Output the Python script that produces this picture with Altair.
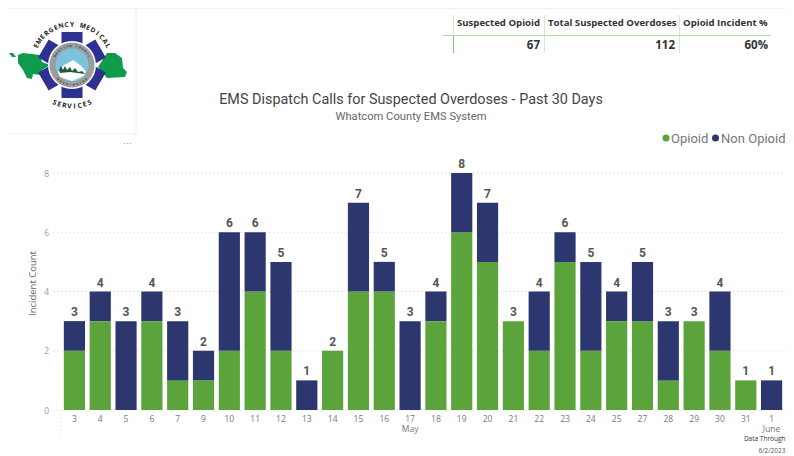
import math
import altair as alt
import pandas as pd

days = ["3","4","5","6","7","9","10","11","12","13","14","15","16","17","18","19","20","21","22","23","24","25","27","28","29","30","31","1"]
opioid = [2,3,0,3,1,1,2,4,2,0,2,4,4,0,3,6,5,3,2,5,2,3,3,1,3,2,1,0]
non_opioid = [1,1,3,1,2,1,4,2,3,1,0,3,1,3,1,2,2,0,2,1,3,1,2,2,0,2,0,1]
y_ticks = [0,2,4,6,8]
series_names = ["Opioid","Non Opioid"]
series_colors = ["#5BA33B","#2B376E"]
table_heads = ["Suspected Opioid","Total Suspected Overdoses","Opioid Incident %"]
table_vals = ["67","112","60%"]

L, T, PW, PH = 61.5, 173, 723, 237
def px(x): return alt.value(x - L)
def py(y): return alt.value(y - T)

blank = alt.Data(values=[{"a": 1}])
FONT = "Roboto"
TF = "Open Sans"

def txt(s, x, y, size, color="#444", align="center", weight="normal", font=FONT, angle=0, baseline="middle"):
    return alt.Chart(blank).mark_text(text=s, fontSize=size, color=color, align=align, fontWeight=weight,
                                      font=font, angle=angle, baseline=baseline).encode(x=px(x), y=py(y))

def rule(x1, y1, x2, y2, color="#eee", w=1, dash=None):
    kw = dict(color=color, strokeWidth=w)
    if dash:
        kw["strokeDash"] = dash
    if x1 == x2:
        return alt.Chart(blank).mark_rule(**kw).encode(x=px(x1), y=py(y1), y2=py(y2))
    return alt.Chart(blank).mark_rule(**kw).encode(x=px(x1), x2=px(x2), y=py(y1))

def poly(points, color, cx, cy, R):
    d = "M" + " L".join(f"{(x-cx)/R:.4f},{(y-cy)/R:.4f}" for x, y in points) + " Z"
    return alt.Chart(blank).mark_point(shape=d, filled=True, color=color, size=(2*R)**2, opacity=1, strokeWidth=0).encode(x=px(cx), y=py(cy))

def circle(cx, cy, r, color):
    return alt.Chart(blank).mark_point(shape="circle", filled=True, color=color, size=(2*r)**2, opacity=1, strokeWidth=0).encode(x=px(cx), y=py(cy))

def arc_text(s, cx, cy, r, a0, a1, size, color="#222", bottom=False, weight="bold"):
    out = []
    n = len(s)
    for i, ch in enumerate(s):
        if ch == " ":
            continue
        a = a0 + (a1 - a0) * i / (n - 1)
        rad = math.radians(a)
        x = cx + r * math.sin(rad)
        y = cy + r * math.cos(rad) if bottom else cy - r * math.cos(rad)
        rot = (-a) % 360 if bottom else a % 360
        out.append(txt(ch, x, y, size, color=color, weight=weight, font="Open Sans", angle=rot))
    return out

# ---- data
df = pd.DataFrame({"day": days * 2, "count": opioid + non_opioid,
                   "series": [series_names[0]] * len(days) + [series_names[1]] * len(days),
                   "o": [0] * len(days) + [1] * len(days)})
tot = pd.DataFrame({"day": days, "total": [a + b for a, b in zip(opioid, non_opioid)]})
x_scale = alt.Scale(domain=days, paddingInner=0.18, paddingOuter=0.09)
y_scale = alt.Scale(domain=[0, 8], nice=False)
y_axis = alt.Axis(values=y_ticks, grid=False, ticks=False, domain=False, labelFontSize=8.5, labelColor="#999", labelFont=TF,
                  labelPadding=13, title="Incident Count", titleFontSize=9.5, titleColor="#666", titleFont=TF,
                  titleFontWeight="normal", titleX=-24, titleY=110)

grid = alt.Chart(pd.DataFrame({"v": y_ticks})).mark_rule(color="#c9c9c9", strokeWidth=1, strokeDash=[1, 3]).encode(
    y=alt.Y("v:Q", scale=y_scale, axis=y_axis), x=alt.value(-8), x2=alt.value(724.5))

bars = alt.Chart(df).mark_bar().encode(
    x=alt.X("day:N", sort=days, scale=x_scale, title=None,
            axis=alt.Axis(labelAngle=0, labelFontSize=8.5, labelColor="#777", labelFont=TF, ticks=False, domain=False, labelPadding=4, grid=False)),
    y=alt.Y("count:Q", stack="zero", scale=y_scale, axis=y_axis),
    color=alt.Color("series:N", scale=alt.Scale(domain=series_names, range=series_colors), legend=None),
    order=alt.Order("o:Q"),
)
labels = alt.Chart(tot).mark_text(fontSize=12, fontWeight="bold", color="#555", font=FONT, baseline="bottom", dy=-2).encode(
    x=alt.X("day:N", sort=days, scale=x_scale), y=alt.Y("total:Q", scale=y_scale, axis=y_axis), text="total:Q")
month_may = alt.Chart(pd.DataFrame({"day": ["17"], "m": ["May"]})).mark_text(fontSize=8.5, color="#777", font=TF).encode(
    x=alt.X("day:N", sort=days, scale=x_scale), y=py(429), text="m:N")
month_jun = alt.Chart(pd.DataFrame({"day": ["1"], "m": ["June"]})).mark_text(fontSize=8.5, color="#777", font=TF).encode(
    x=alt.X("day:N", sort=days, scale=x_scale), y=py(429), text="m:N")

layers = [grid, bars, labels, month_may, month_jun]
layers += [rule(61, 410, 61, 435, color="#d5d5d5", dash=[1, 3])]

# ---- legend
layers += [circle(666, 138, 3.5, series_colors[0]), txt(series_names[0], 671, 138.5, 13, color="#777", align="left"),
           circle(715.5, 138, 3.5, series_colors[1]), txt(series_names[1], 785.5, 138.5, 13, color="#777", align="right")]

# ---- chrome
layers += [rule(8, 8.5, 786, 8.5, color="#f2f2f2"), rule(136, 8, 136, 134), rule(8, 134, 136, 134)]
layers += [txt("• • •", 127.5, 144, 5, color="#888")]
layers += [txt("EMS Dispatch Calls for Suspected Overdoses - Past 30 Days", 411, 100, 14.4, color="#444"),
           txt("Whatcom County EMS System", 411, 117, 11.2, color="#666")]
layers += [txt("Data Through", 785.5, 439, 6.5, color="#333", align="right", font=TF),
           txt("6/2/2023", 785.5, 451, 6.5, color="#555", align="right", font=TF)]

# ---- summary table
for xv in (453.5, 544.5, 679.5):
    layers.append(rule(xv, 15, xv, 53, color="#d6e8cd"))
layers.append(rule(453.5, 36, 453.5, 53, color="#8dbb7a"))
layers.append(rule(443, 35.5, 771, 35.5, color="#b5d6a6", w=1.2))
for x, h in zip((457, 548, 683), table_heads):
    layers.append(txt(h, x, 23, 9.6, color="#333", align="left", weight="bold", font=TF))
for x, v in zip((540, 675, 768), table_vals):
    layers.append(txt(v, x, 46, 11.5, color="#333", align="right", weight="bold", font=TF))

# ---- logo
GREEN = "#109A4C"
layers += [poly([(18,55),(23,53),(40,55),(42,62),(50,65),(42,70),(40,75),(33,74),(32,79),(27,78),(23,70),(18,63)], GREEN, 34, 66, 18),
           poly([(107,53),(115,53),(122,58),(123,68),(127,72),(125,77),(107,78),(98,67)], GREEN, 112, 66, 16),
           poly([(9,53),(13,53),(16,57),(12,57)], GREEN, 12, 55, 5)]
cx, cy = 72, 65
arm_w, arm_l = 10.5, 33
arm_paths = []
for a in (0, 60, 120):
    r = math.radians(a)
    dx, dy = math.sin(r), -math.cos(r)
    nx, ny = -dy, dx
    pts = [(dx*arm_l*s + nx*arm_w*t, dy*arm_l*s + ny*arm_w*t) for s, t in ((1,1),(1,-1),(-1,-1),(-1,1))]
    arm_paths.append("M" + " L".join(f"{p/36:.4f},{q/36:.4f}" for p, q in pts) + " Z")
layers.append(alt.Chart(blank).mark_point(shape=" ".join(arm_paths), filled=True, color="#2E3192", size=72**2, opacity=1, strokeWidth=0).encode(x=px(cx), y=py(cy)))
layers += [circle(cx, cy, 24, "#ffffff"), circle(cx, cy, 22.5, "#9b9ca0"), circle(cx, cy, 16.5, "#7CC4DC")]
layers.append(poly([(58,72),(64,65),(70,62),(73,60),(80,65),(86,71),(84,76),(72,81),(60,77)], "#ffffff", 72, 70, 16))
layers.append(poly([(59,70),(61,66),(63,70),(65,66),(67,70),(70,67),(72,71),(75,68),(78,72),(82,71),(85,74),(70,72),(60,73)], "#1F5A3C", 72, 70, 15))
layers += arc_text("EMERGENCY MEDICAL", cx, cy, 40.5, -62, 62, 6.6)
layers += arc_text("SERVICES", cx, cy, 41.5, -25, 25, 6.8, bottom=True)
layers += arc_text("WHATCOM COUNTY", cx, cy, 19.5, -62, 62, 2.6, color="#333")
layers += arc_text("WASHINGTON", cx, cy, 19.5, -45, 45, 2.6, color="#333", bottom=True)

chart = alt.layer(*layers).properties(
    width=PW, height=PH,
    padding={"left": L - 8, "top": T - 8, "right": 778 - (L - 8) - PW, "bottom": 448 - (T - 8) - PH},
    autosize=alt.AutoSizeParams(type="none"),
).configure_view(stroke=None)

chart.save("out.html", embed_options={"renderer": "svg", "actions": False})
